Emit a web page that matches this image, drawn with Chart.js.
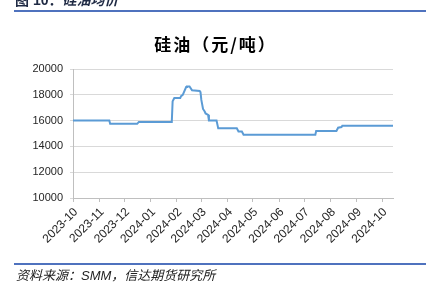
<!DOCTYPE html>
<html>
<head>
<meta charset="utf-8">
<script src="https://cdn.jsdelivr.net/npm/chart.js@4/dist/chart.umd.min.js"></script>
<style>
  html, body { margin: 0; padding: 0; background: #fff; }
  #wrap { position: relative; width: 431px; height: 291px; overflow: hidden; }
  #chart { position: absolute; left: 0; top: 0; }
  .rule { position: absolute; left: 14px; width: 412px; height: 2px; background: #4F72BE; }
  #head { position: absolute; left: 15px; top: -11px; font: bold 14px 'Liberation Sans', 'Noto Sans CJK SC', sans-serif; color: #1f2a44; white-space: nowrap; }
  #head i { font-family: 'Noto Sans CJK SC', sans-serif; }
  #title { position: absolute; left: 0; width: 431px; top: 31px; text-align: center; font: bold 17px 'Noto Sans CJK SC', sans-serif; letter-spacing: 2px; color: #000; white-space: nowrap; }
  #foot { position: absolute; left: 16px; top: 265px; font: italic 13px 'Noto Sans CJK SC', sans-serif; color: #222; white-space: nowrap; }
  #foot span { font-family: 'Liberation Sans', sans-serif; }
</style>
</head>
<body>
<div id="wrap">
  <canvas id="chart" width="431" height="291"></canvas>
  <div id="head">图 10：<i>硅油均价</i></div>
  <div class="rule" style="top:10px"></div>
  <div id="title"></div>
  <div class="rule" style="top:263px"></div>
  <div id="foot">资料来源：<span>SMM</span>，信达期货研究所</div>
</div>
<script>
// silicone oil price, yuan/ton (points where the series changes)
const priceDates = [
    '2023-10-01', '2023-11-13', '2023-11-14', '2023-12-16', '2023-12-18',
    '2024-01-26', '2024-01-27', '2024-01-29', '2024-02-05', '2024-02-06',
    '2024-02-08', '2024-02-12', '2024-02-13', '2024-02-16', '2024-02-19',
    '2024-02-28', '2024-02-29', '2024-03-01', '2024-03-03', '2024-03-05',
    '2024-03-06', '2024-03-09', '2024-03-10', '2024-03-19', '2024-03-21',
    '2024-04-12', '2024-04-14', '2024-04-18', '2024-04-20', '2024-07-14',
    '2024-07-15', '2024-08-08', '2024-08-10', '2024-08-14', '2024-08-15',
    '2024-10-14'
];
const priceValues = [
    16000, 16000, 15750, 15750, 15900,
    15900, 17500, 17750, 17750, 17900,
    18000, 18600, 18650, 18650, 18350,
    18300, 18200, 17600, 16900, 16700,
    16550, 16450, 16000, 16000, 15400,
    15400, 15150, 15150, 14900, 14900,
    15200, 15200, 15450, 15500, 15600,
    15600
];
const monthLabels = [
    '2023-10', '2023-11', '2023-12', '2024-01', '2024-02', '2024-03', '2024-04',
    '2024-05', '2024-06', '2024-07', '2024-08', '2024-09', '2024-10'
];
const chartTitle = '硅油（元/吨）';

const startMs = Date.parse(priceDates[0]);
const dayOf = (dateStr) => Math.round((Date.parse(dateStr) - startMs) / 86400000);

const points = priceDates.map((d, i) => ({ x: dayOf(d), y: priceValues[i] }));
const monthDays = monthLabels.map((m) => dayOf(m + '-01'));

const labelColor = '#262626';
const axisColor = '#BFBFBF';

document.getElementById('title').textContent = chartTitle;

new Chart(document.getElementById('chart'), {
    type: 'line',
    data: {
        datasets: [{
            data: points,
            borderColor: '#5B9BD5',
            borderWidth: 2,
            pointRadius: 0,
            tension: 0,
            fill: false
        }]
    },
    options: {
        responsive: false,
        animation: false,
        layout: { padding: { left: 0, right: 38, top: 69, bottom: 43 } },
        plugins: {
            legend: { display: false },
            tooltip: { enabled: false }
        },
        scales: {
            x: {
                type: 'linear',
                min: 0,
                max: dayOf(priceDates[priceDates.length - 1]),
                afterBuildTicks: (scale) => {
                    scale.ticks = monthDays.map((v) => ({ value: v }));
                },
                afterFit: (scale) => {
                    scale.height = 50;
                },
                ticks: {
                    autoSkip: false,
                    minRotation: 45,
                    maxRotation: 45,
                    padding: 3,
                    labelOffset: 3,
                    color: labelColor,
                    font: { family: "'Liberation Sans', Arial, sans-serif", size: 12 },
                    callback: (value, index) => monthLabels[index]
                },
                grid: { drawOnChartArea: false, tickLength: 4, color: axisColor },
                border: { color: axisColor }
            },
            y: {
                min: 10000,
                max: 20000,
                afterFit: (scale) => {
                    scale.width = 73;
                },
                ticks: {
                    stepSize: 2000,
                    padding: 7,
                    color: labelColor,
                    font: { family: "'Liberation Sans', Arial, sans-serif", size: 11 },
                    callback: (value) => String(value)
                },
                grid: { color: '#D9D9D9', tickLength: 3 },
                border: { color: axisColor }
            }
        }
    }
});
</script>
</body>
</html>
